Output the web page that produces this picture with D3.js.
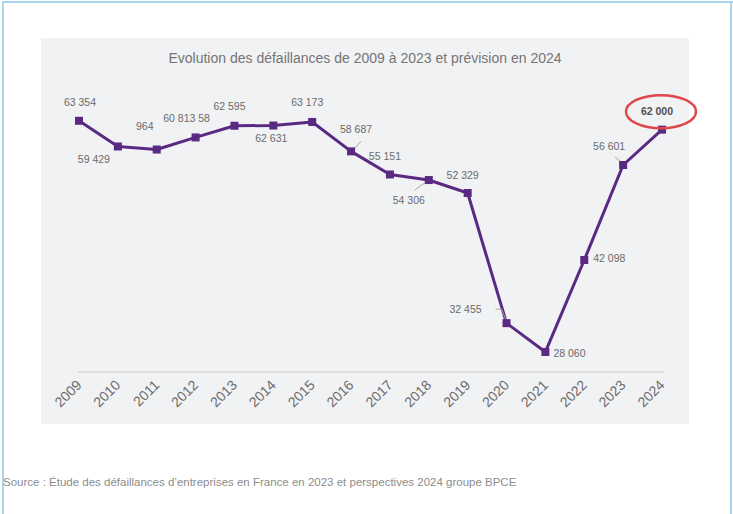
<!DOCTYPE html>
<html>
<head>
<meta charset="utf-8">
<script src="https://cdn.jsdelivr.net/npm/d3@7/dist/d3.min.js"></script>
<style>
  html, body { margin: 0; padding: 0; background: #ffffff; }
  svg { display: block; font-family: "Liberation Sans", Arial, sans-serif; }
</style>
</head>
<body>
<svg id="chart" width="733" height="514"></svg>
<script>
// ---- Data ----
const years = ["2009","2010","2011","2012","2013","2014","2015","2016","2017","2018","2019","2020","2021","2022","2023","2024"];
const defaillances = [63354, 59429, 58964, 60813, 62595, 62631, 63173, 58687, 55151, 54306, 52329, 32455, 28060, 42098, 56601, 62000];
const valueLabels = ["63 354","59 429","964","60 813 58","62 595","62 631","63 173","58 687","55 151","54 306","52 329","32 455","28 060","42 098","56 601","62 000"];
const titleText = "Evolution des défaillances de 2009 à 2023 et prévision en 2024";
const sourceText = "Source : Étude des défaillances d’entreprises en France en 2023 et perspectives 2024 groupe BPCE";

// ---- Layout (not data) ----
const labelOffsets = [[1,-18],[-24,13],[-12,-23],[-9,-19],[-5,-19],[-2,13],[-5,-20],[5,-22],[-5,-18],[-20,20],[-5,-18],[-41,-14],[8,1],[9,-2],[-14,-19],[-5,-18]];
const labelAnchors = ["middle","middle","middle","middle","middle","middle","middle","middle","middle","middle","middle","middle","start","start","middle","middle"];
const leaders = {7:[[10,-10],[1,0]], 9:[[-14,10],[0,0]], 11:[[-11,-14],[-5,-14],[0,-2]], 14:[[-8,-8],[0,-1]]};

const svg = d3.select("#chart");

// frame
svg.append("rect").attr("x",0).attr("y",0).attr("width",733).attr("height",514).attr("fill","#fff");
svg.append("rect").attr("x",2).attr("y",1).attr("width",731).attr("height",2).attr("fill","#a9d5f1");
svg.append("rect").attr("x",2).attr("y",1).attr("width",2).attr("height",513).attr("fill","#a9d5f1");
svg.append("rect").attr("x",730).attr("y",1).attr("width",2).attr("height",513).attr("fill","#a9d5f1");

// panel
svg.append("rect").attr("x",41).attr("y",38).attr("width",648).attr("height",386).attr("fill","#f1f2f4");

svg.append("text").attr("x",365).attr("y",63).attr("text-anchor","middle")
  .attr("font-size",14).attr("fill","#757575").text(titleText);

const x = d3.scalePoint().domain(years).range([79, 662]);
const y = d3.scaleLinear().domain([25000, 65000]).range([372, 110]);

// x axis
const xAxis = d3.axisBottom(x).tickSize(0).tickPadding(0);
const gx = svg.append("g").attr("transform","translate(0,372)").call(xAxis);
gx.select(".domain").attr("stroke","#d9d9d9").attr("stroke-width",1.5)
  .attr("d", `M${x(years[0])-1},0H${x(years[years.length-1])+2}`);
gx.selectAll(".tick text")
  .attr("font-family","Liberation Sans, Arial, sans-serif")
  .attr("font-size",14).attr("fill","#6b6b6b")
  .attr("text-anchor","end")
  .attr("dy",null).attr("y",0)
  .attr("transform","translate(3,14) rotate(-45)");

// line
const line = d3.line().x((d,i)=>x(years[i])).y(d=>y(d));
svg.append("path").datum(defaillances).attr("d",line)
  .attr("fill","none").attr("stroke","#5a2a83").attr("stroke-width",3).attr("stroke-linejoin","round");

// leader lines
Object.keys(leaders).forEach(k=>{
  const i = +k;
  const px = x(years[i]), py = y(defaillances[i]);
  const pts = leaders[k].map(p=>[px+p[0], py+p[1]]);
  svg.append("path").attr("d", d3.line()(pts)).attr("fill","none").attr("stroke","#a6a6a6").attr("stroke-width",1);
});

// markers
const ms = 8;
svg.selectAll("rect.m").data(defaillances).enter().append("rect").attr("class","m")
  .attr("x",(d,i)=>x(years[i])-ms/2).attr("y",d=>y(d)-ms/2)
  .attr("width",ms).attr("height",ms).attr("fill","#5a2a83");

// labels
svg.selectAll("text.v").data(defaillances).enter().append("text").attr("class","v")
  .attr("x",(d,i)=>x(years[i])+labelOffsets[i][0])
  .attr("y",(d,i)=>y(d)+labelOffsets[i][1])
  .attr("dy","0.35em")
  .attr("text-anchor",(d,i)=>labelAnchors[i])
  .attr("font-size",10.5)
  .attr("font-weight",(d,i)=>i===years.length-1?"bold":"normal")
  .attr("fill",(d,i)=>i===years.length-1?"#505050":"#6b6b6b")
  .text((d,i)=>valueLabels[i]);

// red ellipse around forecast
const li = years.length-1;
svg.append("ellipse").attr("cx",x(years[li])-1).attr("cy",y(defaillances[li])-18)
  .attr("rx",35).attr("ry",16.5).attr("fill","none").attr("stroke","#e0474c").attr("stroke-width",2.5);

// source
svg.append("text").attr("x",3).attr("y",486).attr("font-size",11.5).attr("fill","#8c8c8c").text(sourceText);
</script>
</body>
</html>
